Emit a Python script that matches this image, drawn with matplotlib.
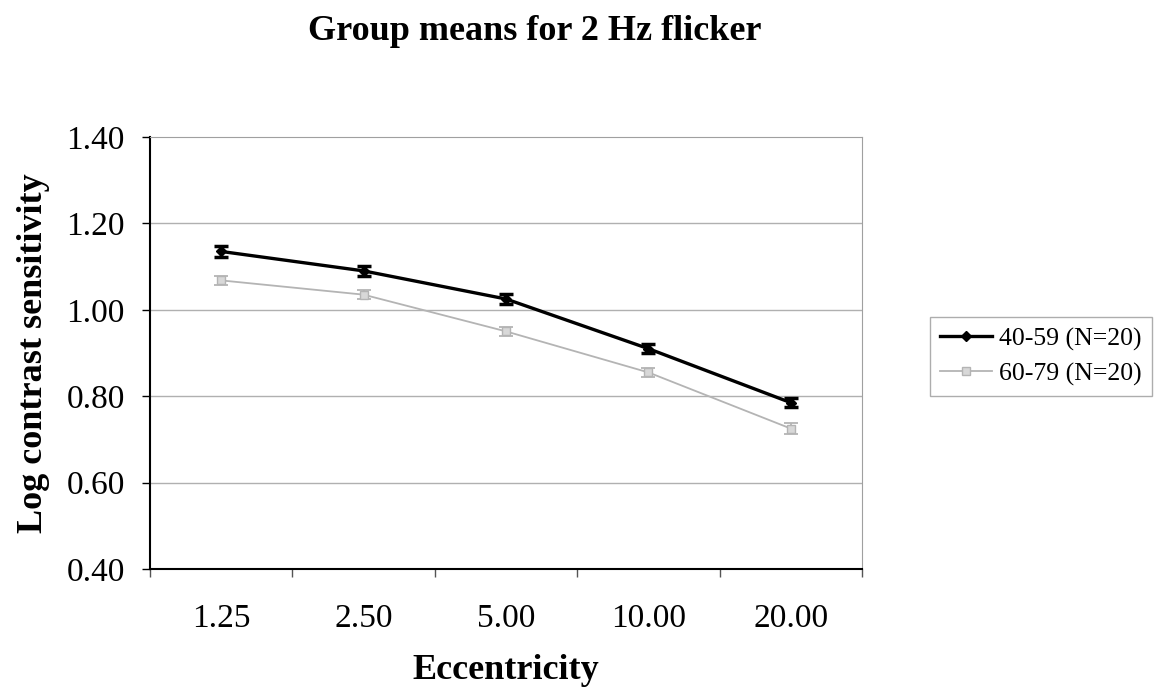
import matplotlib.pyplot as plt
from matplotlib.lines import Line2D

plt.rcParams['font.family'] = ['Liberation Serif', 'DejaVu Serif']

eccentricity = ['1.25', '2.50', '5.00', '10.00', '20.00']
grupo_40_59 = [1.135, 1.090, 1.025, 0.910, 0.785]
erro_40_59 = [0.012, 0.011, 0.012, 0.011, 0.011]
grupo_60_79 = [1.068, 1.035, 0.950, 0.855, 0.725]
erro_60_79 = [0.010, 0.010, 0.010, 0.011, 0.012]
labels = ['40-59 (N=20)', '60-79 (N=20)']

fig = plt.figure(figsize=(11.6, 6.89), dpi=100)
ax = fig.add_axes([0.1293, 0.1742, 0.6138, 0.627])

x = list(range(len(eccentricity)))

estilo_40 = dict(color='black', lw=2.4, marker='D', ms=5)
estilo_60 = dict(color='#b4b4b4', lw=1.3, marker='s', ms=6,
                 mfc='#d8d8d8', mec='#b4b4b4')

ax.errorbar(x, grupo_40_59, yerr=erro_40_59, capsize=5, capthick=2.5,
            elinewidth=2.5, zorder=4, **estilo_40)
ax.errorbar(x, grupo_60_79, yerr=erro_60_79, capsize=5, capthick=1.3,
            elinewidth=1.3, zorder=3, **estilo_60)

ax.set_xlim(-0.5, len(eccentricity) - 0.5)
ax.set_ylim(0.40, 1.40)
ax.set_yticks([0.40, 0.60, 0.80, 1.00, 1.20, 1.40])
ax.set_yticklabels(['%.2f' % v for v in ax.get_yticks()], fontsize=24)
ax.set_xticks(x)
ax.set_xticklabels(eccentricity, fontsize=24)
ax.set_xticks([i - 0.5 for i in range(len(eccentricity) + 1)], minor=True)
ax.tick_params(axis='x', which='major', length=0, pad=25)
ax.tick_params(axis='x', which='minor', length=6, width=1, color='#555555')
ax.tick_params(axis='y', length=6, width=1, pad=12)

for v in [0.60, 0.80, 1.00, 1.20]:
    ax.axhline(v, color='#b0b0b0', lw=1, zorder=1)

ax.spines['left'].set_linewidth(1.5)
ax.spines['bottom'].set_linewidth(1.5)
ax.spines['top'].set_color('#a0a0a0')
ax.spines['right'].set_color('#a0a0a0')

ax.set_xlabel('Eccentricity', fontsize=26, fontweight='bold', labelpad=14)
ax.set_ylabel('Log contrast sensitivity', fontsize=26, fontweight='bold', labelpad=12)

fig.text(0.461, 0.955, 'Group means for 2 Hz flicker', fontsize=26,
         fontweight='bold', ha='center', va='center')

# legenda sem as barras de erro
handles = [Line2D([], [], **estilo_40), Line2D([], [], **estilo_60)]
leg = ax.legend(handles, labels, loc='upper left', bbox_to_anchor=(0.8017, 0.540),
                bbox_transform=fig.transFigure, fontsize=18.5, fancybox=False,
                handlelength=2.0, borderpad=0.4, labelspacing=0.45,
                handletextpad=0.3, borderaxespad=0)
leg.get_frame().set_edgecolor('#999999')
leg.get_frame().set_linewidth(1)

fig.savefig('out.png', dpi=100)
